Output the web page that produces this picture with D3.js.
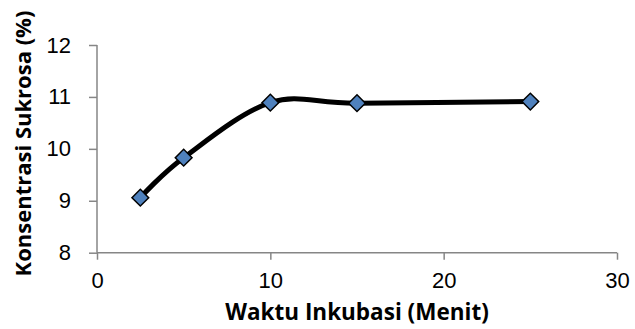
<!DOCTYPE html>
<html>
<head>
<meta charset="utf-8">
<script src="https://cdn.jsdelivr.net/npm/d3@7"></script>
<style>
  html, body { margin: 0; padding: 0; background: #fff; }
  svg { display: block; font-family: "Open Sans", "Noto Sans", sans-serif; }
</style>
</head>
<body>
<svg id="chart" width="635" height="329"></svg>
<script>
// Incubation time (minutes) vs sucrose concentration (%)
const waktu = [2.5, 5, 10, 15, 25];
const sukrosa = [9.06, 9.83, 10.89, 10.88, 10.91];
const xTicks = [0, 10, 20, 30];
const yTicks = [8, 9, 10, 11, 12];
const xTitle = "Waktu Inkubasi (Menit)";
const yTitle = "Konsentrasi Sukrosa (%)";

const svg = d3.select("#chart");
const plot = { left: 97, right: 617, top: 45, bottom: 252.7 };

const x = d3.scaleLinear().domain([0, 30]).range([plot.left, plot.right]);
const y = d3.scaleLinear().domain([8, 12]).range([plot.bottom, plot.top]);

const axisColor = "#868686";

// Y axis
const yAxis = svg.append("g")
  .attr("transform", `translate(${plot.left},0)`)
  .call(d3.axisLeft(y).tickValues(yTicks).tickSize(8).tickPadding(18).tickFormat(d3.format("d")));
// X axis
const xAxis = svg.append("g")
  .attr("transform", `translate(0,${plot.bottom})`)
  .call(d3.axisBottom(x).tickValues(xTicks).tickSize(7).tickPadding(13).tickFormat(d3.format("d")));

[xAxis, yAxis].forEach(g => {
  g.select(".domain").attr("stroke", axisColor).attr("stroke-width", 1.5);
  g.selectAll(".tick line").attr("stroke", axisColor).attr("stroke-width", 1.5);
  g.selectAll(".tick text").attr("fill", "#000").style("font-size", "22px");
});
// plain axis lines without outer end caps
xAxis.select(".domain").attr("d", `M${plot.left},0H${plot.right}`);
yAxis.select(".domain").attr("d", `M0,${plot.top}V${plot.bottom}`);

// Smoothed series line
const line = d3.line()
  .x((d, i) => x(waktu[i]))
  .y(d => y(d))
  .curve(d3.curveCatmullRom.alpha(0));

svg.append("path")
  .datum(sukrosa)
  .attr("d", line)
  .attr("fill", "none")
  .attr("stroke", "#000")
  .attr("stroke-width", 5)
  .attr("stroke-linejoin", "round");

// Diamond markers
svg.selectAll(".marker")
  .data(sukrosa)
  .join("path")
  .attr("class", "marker")
  .attr("transform", (d, i) => `translate(${x(waktu[i])},${y(d)}) rotate(45)`)
  .attr("d", d3.symbol().type(d3.symbolSquare).size(140))
  .attr("fill", "#4F81BD")
  .attr("stroke", "#000")
  .attr("stroke-width", 1.5);

// Axis titles
svg.append("text")
  .attr("x", (plot.left + plot.right) / 2)
  .attr("y", 320)
  .attr("text-anchor", "middle")
  .style("font-size", "22.5px")
  .style("font-weight", "bold")
  .text(xTitle);

svg.append("text")
  .attr("transform", `translate(30.5,143.5) rotate(-90)`)
  .attr("text-anchor", "middle")
  .style("font-size", "22px")
  .style("font-weight", "bold")
  .text(yTitle);
</script>
</body>
</html>
